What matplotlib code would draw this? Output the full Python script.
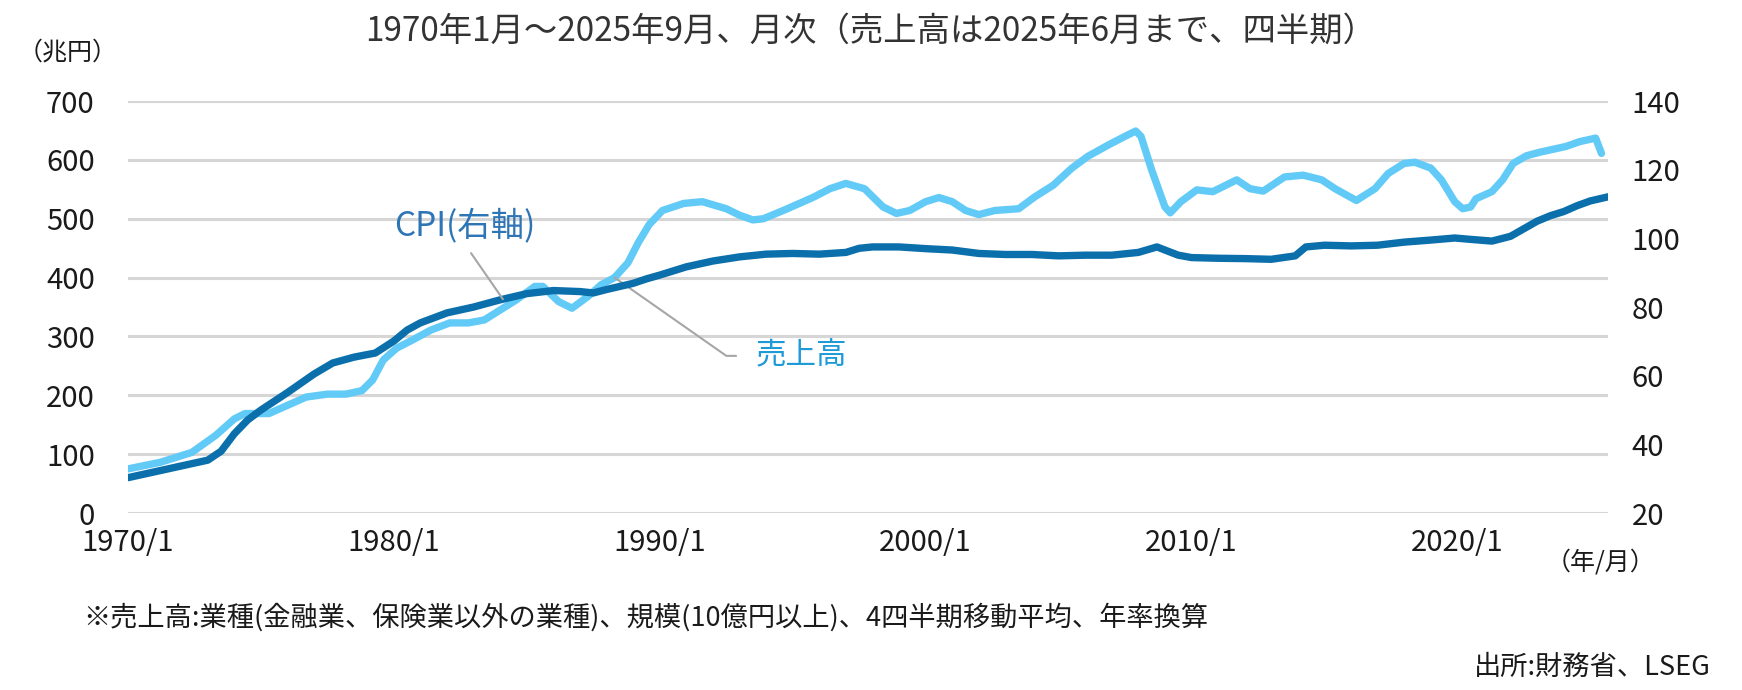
import numpy as np
import matplotlib
matplotlib.use('Agg')
import matplotlib.pyplot as plt

plt.rcParams['font.family'] = ['Noto Sans CJK JP', 'DejaVu Sans']

# 売上高 (兆円), 4四半期移動平均・年率換算, time as decimal year
sales_t = [1970.0, 1971.2, 1972.4, 1973.3, 1974.0, 1974.4, 1975.3, 1976.0, 1976.7,
           1977.5, 1978.2, 1978.8, 1979.2, 1979.6, 1980.1, 1980.7, 1981.4, 1982.1,
           1982.8, 1983.4, 1984.0, 1984.6, 1985.3, 1985.6, 1986.2, 1986.7, 1987.3,
           1987.8, 1988.3, 1988.8, 1989.2, 1989.6, 1990.1, 1990.9, 1991.6, 1992.5,
           1993.0, 1993.5, 1993.9, 1994.8, 1995.8, 1996.4, 1997.0, 1997.7, 1998.4,
           1998.9, 1999.4, 2000.0, 2000.5, 2001.0, 2001.5, 2002.0, 2002.6, 2003.5,
           2004.1, 2004.8, 2005.5, 2006.1, 2006.9, 2007.5, 2007.9, 2008.1, 2008.5,
           2009.0, 2009.2, 2009.6, 2010.2, 2010.8, 2011.7, 2012.2, 2012.7, 2013.5,
           2014.2, 2014.9, 2015.4, 2016.2, 2016.9, 2017.4, 2018.0, 2018.4, 2019.0,
           2019.4, 2019.9, 2020.2, 2020.5, 2020.7, 2021.3, 2021.7, 2022.1, 2022.6,
           2023.1, 2023.6, 2024.1, 2024.6, 2025.2, 2025.42]
sales_v = [75, 86, 103, 132, 160, 169, 169, 183, 197,
           202, 202, 208, 226, 260, 280, 294, 311, 323,
           323, 328, 345, 362, 385, 385, 359, 348, 368,
           388, 400, 425, 460, 490, 514, 526, 529, 517,
           506, 498, 500, 517, 537, 551, 560, 551, 520,
           509, 514, 529, 536, 529, 514, 507, 514, 517,
           537, 557, 586, 606, 626, 640, 649, 640, 583,
           520, 510, 529, 549, 546, 566, 551, 547, 571,
           574, 566, 551, 531, 551, 577, 594, 596, 586,
           566, 529, 517, 520, 534, 546, 566, 594, 607,
           613, 618, 623, 631, 637, 611]

# CPI (右軸)
cpi_t = [1970.0, 1971.0, 1972.0, 1973.0, 1973.5, 1974.0, 1974.5, 1975.0, 1976.0,
         1977.0, 1977.7, 1978.5, 1979.3, 1980.0, 1980.5, 1981.0, 1982.0, 1983.0,
         1984.0, 1985.0, 1986.0, 1987.0, 1987.5, 1988.0, 1989.0, 1989.5, 1990.0,
         1991.0, 1992.0, 1993.0, 1994.0, 1995.0, 1996.0, 1997.0, 1997.5, 1998.0,
         1999.0, 2000.0, 2001.0, 2002.0, 2003.0, 2004.0, 2005.0, 2006.0, 2007.0,
         2008.0, 2008.7, 2009.5, 2010.0, 2011.0, 2012.0, 2013.0, 2013.9, 2014.3,
         2015.0, 2016.0, 2017.0, 2018.0, 2019.0, 2019.9, 2020.5, 2021.3, 2022.0,
         2022.5, 2023.0, 2023.5, 2024.0, 2024.5, 2025.0, 2025.67]
cpi_v = [30.3, 32.0, 33.7, 35.4, 38.0, 43.1, 47.1, 50.0, 55.1,
         60.5, 63.7, 65.4, 66.6, 70.1, 73.3, 75.4, 78.3, 80.0,
         82.1, 83.9, 84.8, 84.5, 84.1, 85.1, 86.9, 88.2, 89.3,
         91.7, 93.4, 94.6, 95.4, 95.6, 95.4, 95.9, 97.1, 97.5,
         97.5, 97.0, 96.6, 95.6, 95.3, 95.3, 94.9, 95.1, 95.1,
         95.9, 97.5, 95.1, 94.4, 94.2, 94.1, 93.9, 94.9, 97.5,
         98.0, 97.8, 98.0, 98.9, 99.5, 100.1, 99.7, 99.2, 100.6,
         102.8, 105.0, 106.6, 107.8, 109.5, 110.9, 112.1]

xticks = [1970, 1980, 1990, 2000, 2010, 2020]
xtick_labels = ['1970/1', '1980/1', '1990/1', '2000/1', '2010/1', '2020/1']

sales_color = '#62CAF7'
cpi_color = '#0B6FAB'

fig = plt.figure(figsize=(17.42, 6.9), dpi=100)
ax = fig.add_axes([0.0735, 0.2565, 0.8496, 0.5971])
ax2 = ax.twinx()

ax.plot(sales_t, sales_v, color=sales_color, lw=5.3, solid_capstyle='round', zorder=3)
ax2.plot(cpi_t, cpi_v, color=cpi_color, lw=5.3, solid_capstyle='round', zorder=3)

ax.set_xlim(1970, 2025 + 8 / 12)
ax.set_ylim(0, 700)
ax2.set_ylim(20, 140)
ax.set_yticks(range(0, 701, 100))
ax2.set_yticks(range(20, 141, 20))
ax.set_xticks(xticks)
ax.set_xticklabels(xtick_labels)

ax.grid(axis='y', color='#d6d6d6', lw=2.2)
ax.set_axisbelow(True)
for a in (ax, ax2):
    for s in a.spines.values():
        s.set_visible(False)
ax.tick_params(axis='y', length=0, pad=24, labelsize=21, labelcolor='#1a1a1a')
ax.tick_params(axis='x', length=0, pad=11, labelsize=21, labelcolor='#1a1a1a')
ax2.tick_params(axis='y', length=0, pad=17, labelsize=21, labelcolor='#1a1a1a')

# Labels with leader lines
ax2.annotate('CPI(右軸)', xy=(1984.1, np.interp(1984.1, cpi_t, cpi_v)),
             xytext=(1982.65, 103.6), ha='center', va='center', fontsize=24,
             color='#2E75B6',
             arrowprops=dict(arrowstyle='-', color='#a6a6a6', lw=1.5,
                             relpos=(0.5, 0), shrinkA=6, shrinkB=0))
ax.annotate('売上高', xy=(1988.3, np.interp(1988.3, sales_t, sales_v)),
            xytext=(1993.6, 267), ha='left', va='center', fontsize=22,
            color='#1E9BD7',
            arrowprops=dict(arrowstyle='-', color='#a6a6a6', lw=1.5,
                            relpos=(0, 0.5), shrinkA=12, shrinkB=0,
                            connectionstyle='angle,angleA=0,angleB=-35,rad=0'))

fig.text(0.5, 1 - 31 / 690, '1970年1月～2025年9月、月次（売上高は2025年6月まで、四半期）',
         ha='center', va='center', fontsize=24, color='#333333')
fig.text(68 / 1742, 1 - 53 / 690, '（兆円）', ha='center', va='center',
         fontsize=18, color='#1a1a1a')
fig.text(1600 / 1742, 1 - 562 / 690, '（年/月）', ha='center', va='center',
         fontsize=18, color='#1a1a1a')
fig.text(83 / 1742, 1 - 617 / 690,
         '※売上高:業種(金融業、保険業以外の業種)、規模(10億円以上)、4四半期移動平均、年率換算',
         ha='left', va='center', fontsize=19.6, color='#1a1a1a')
fig.text(1711 / 1742, 1 - 667 / 690, '出所:財務省、LSEG', ha='right', va='center',
         fontsize=19.6, color='#1a1a1a')

fig.savefig('out.png', dpi=100, facecolor='white')
